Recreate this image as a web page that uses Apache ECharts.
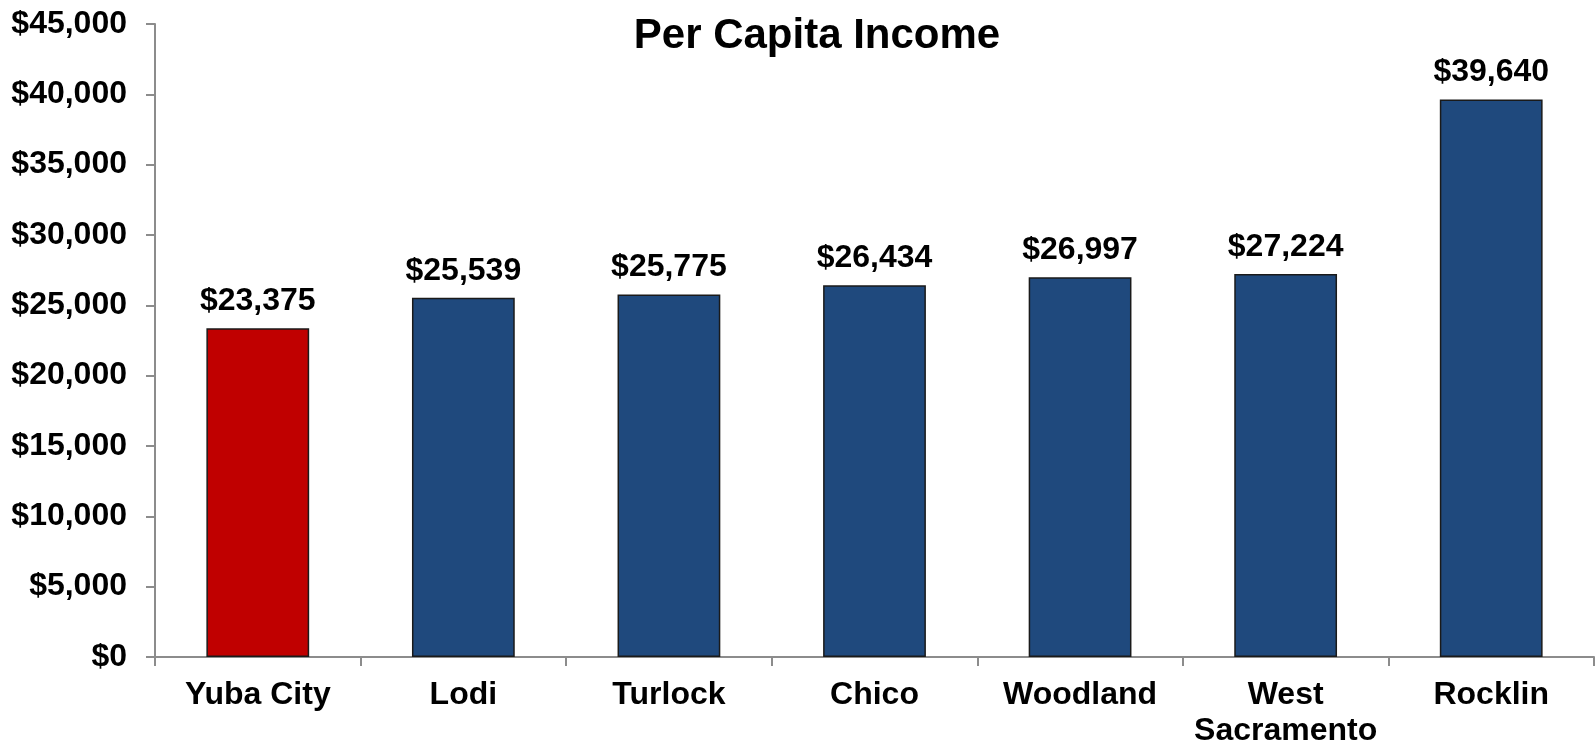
<!DOCTYPE html>
<html>
<head>
<meta charset="utf-8">
<script src="https://cdn.jsdelivr.net/npm/echarts@6/dist/echarts.min.js"></script>
<style>
html,body{margin:0;padding:0;background:#fff;}
#chart{width:1596px;height:745px;}
</style>
</head>
<body>
<div id="chart"></div>
<script>
const categories = ["Yuba City", "Lodi", "Turlock", "Chico", "Woodland", "West\nSacramento", "Rocklin"];
const values = [23375, 25539, 25775, 26434, 26997, 27224, 39640];
const barColors = ["#C00000", "#1F497D", "#1F497D", "#1F497D", "#1F497D", "#1F497D", "#1F497D"];
const titleText = "Per Capita Income";

function money(v) {
  return "$" + String(v).replace(/\B(?=(\d{3})+(?!\d))/g, ",");
}

const chart = echarts.init(document.getElementById("chart"), null, {renderer: "canvas"});
const font = "'Liberation Sans', Arial, sans-serif";
chart.setOption({
  animation: false,
  title: {
    text: titleText,
    left: 812,
    top: 10,
    textAlign: "center",
    textStyle: {fontFamily: font, fontWeight: "bold", fontSize: 42, color: "#000"}
  },
  grid: {left: 155, right: 2, top: 24, bottom: 88, containLabel: false, outerBoundsMode: "none"},
  xAxis: {
    type: "category",
    data: categories,
    boundaryGap: true,
    axisLine: {lineStyle: {color: "#8c8c8c", width: 2}},
    axisTick: {show: true, alignWithLabel: false, length: 9, lineStyle: {color: "#8c8c8c", width: 2}},
    axisLabel: {
      interval: 0,
      margin: 20,
      fontFamily: font, fontWeight: "bold", fontSize: 32, color: "#000",
      lineHeight: 36
    }
  },
  yAxis: {
    type: "value",
    min: 0,
    max: 45000,
    interval: 5000,
    splitLine: {show: false},
    axisLine: {show: true, lineStyle: {color: "#8c8c8c", width: 2}},
    axisTick: {show: true, length: 9, lineStyle: {color: "#8c8c8c", width: 2}},
    axisLabel: {
      margin: 28,
      fontFamily: font, fontWeight: "bold", fontSize: 32, color: "#000",
      formatter: money
    }
  },
  series: [{
    type: "bar",
    barWidth: "50%",
    data: values.map((v, i) => ({value: v, itemStyle: {color: barColors[i]}})),
    itemStyle: {borderColor: "#1a1a1a", borderWidth: 1.5},
    label: {
      show: true,
      position: "top",
      distance: 11,
      fontFamily: font, fontWeight: "bold", fontSize: 32, color: "#000",
      formatter: p => money(p.value)
    }
  }]
});
</script>
</body>
</html>
